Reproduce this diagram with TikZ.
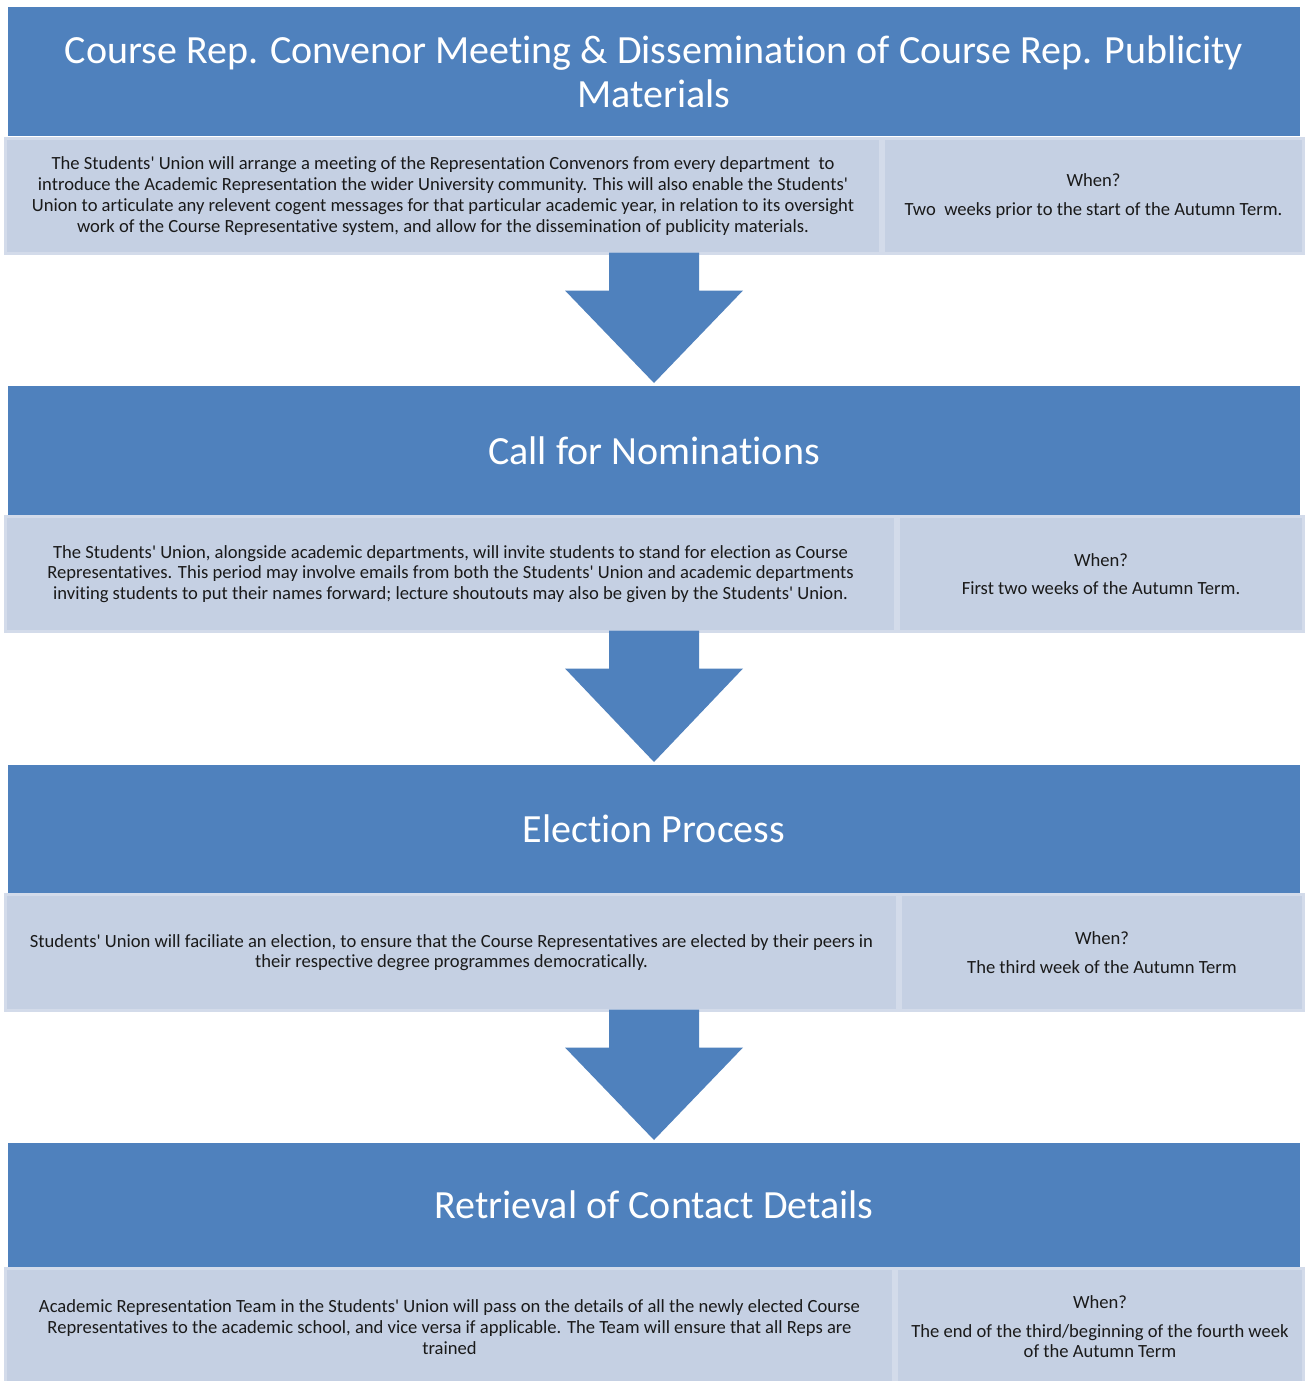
\documentclass[tikz,border=0pt]{standalone}
\usepackage{fontspec}
\setmainfont{Carlito}[Ligatures={TeXOff,NoCommon}]
\usetikzlibrary{calc}
\definecolor{hblue}{HTML}{4F81BD}
\definecolor{lfill}{HTML}{C5D0E3}
\definecolor{lborder}{HTML}{D3DBEA}
\definecolor{ink}{HTML}{1A1A1A}
\tikzset{
  hdr/.style={fill=hblue, draw=none, minimum width=1292pt, inner sep=0pt, outer sep=0pt,
    anchor=north west, text=white, font=\fontsize{40}{44}\selectfont, align=center},
  lbox/.style={fill=lfill, draw=lborder, line width=3pt, inner sep=0pt, outer sep=0pt,
    anchor=north west, text=ink, font=\fontsize{18.6}{20.7}\selectfont, align=center},
  flowarrow/.style={fill=hblue, draw=none}
}
\begin{document}
\begin{tikzpicture}[x=1pt,y=-1pt]
\useasboundingbox (0,0) rectangle (1307,1381);
\fill[white] (0,0) rectangle (1307,1381);

% ---- Stage 1
\node[hdr, minimum height=129pt] (h1) at (8,7)
  {Course Rep. Convenor Meeting \& Dissemination of Course Rep. Publicity\\Materials};
\node[lbox, minimum width=875pt, minimum height=115pt] (l1) at (5.5,138.5)
  {The Students' Union will arrange a meeting of the Representation Convenors from every department \ to\\
   introduce the Academic Representation the wider University community. This will also enable the Students'\\
   Union to articulate any relevent cogent messages for that particular academic year, in relation to its oversight\\
   work of the Course Representative system, and allow for the dissemination of publicity materials.};
\node[lbox, minimum width=420pt, minimum height=115pt] (r1) at (883.5,138.5)
  {When?\\[7.5pt] Two \ weeks prior to the start of the Autumn Term.};

% ---- Stage 2
\node[hdr, minimum height=129pt] (h2) at (8,386) {Call for Nominations};
\node[lbox, minimum width=890pt, minimum height=115pt] (l2) at (5.5,516.5)
  {The Students' Union, alongside academic departments, will invite students to stand for election as Course\\
   Representatives. This period may involve emails from both the Students' Union and academic departments\\
   inviting students to put their names forward; lecture shoutouts may also be given by the Students' Union.};
\node[lbox, minimum width=405pt, minimum height=115pt] (r2) at (898.5,516.5)
  {When?\\[7.5pt] First two weeks of the Autumn Term.};

% ---- Stage 3
\node[hdr, minimum height=128pt] (h3) at (8,765) {Election Process};
\node[lbox, minimum width=892pt, minimum height=116pt] (l3) at (5.5,894.5)
  {Students' Union will faciliate an election, to ensure that the Course Representatives are elected by their peers in\\
   their respective degree programmes democratically.};
\node[lbox, minimum width=403pt, minimum height=116pt] (r3) at (900.5,894.5)
  {When?\\[7.5pt] The third week of the Autumn Term};

% ---- Stage 4
\node[hdr, minimum height=124pt] (h4) at (8,1143) {Retrieval of Contact Details};
\node[lbox, minimum width=888pt, minimum height=117pt] (l4) at (5.5,1268.5)
  {Academic Representation Team in the Students' Union will pass on the details of all the newly elected Course\\
   Representatives to the academic school, and vice versa if applicable. The Team will ensure that all Reps are\\
   trained};
\node[lbox, minimum width=407pt, minimum height=117pt] (r4) at (896.5,1268.5)
  {When?\\[7.5pt] The end of the third/beginning of the fourth week\\of the Autumn Term};

% ---- Arrows
\foreach \a/\b in {l1/h2, l2/h3, l3/h4} {
  \coordinate (top) at ($(\a.south -| h1.south)+(0,-1)$);
  \coordinate (tip) at ($(\b.north)+(0,-3)$);
  \fill[flowarrow] ($(top)+(-45,0)$) -- ($(top)+(45,0)$) -- ($(top)+(45,38)$) -- ($(top)+(89,38)$)
     -- (tip) -- ($(top)+(-89,38)$) -- ($(top)+(-45,38)$) -- cycle;
}
\end{tikzpicture}
\end{document}
